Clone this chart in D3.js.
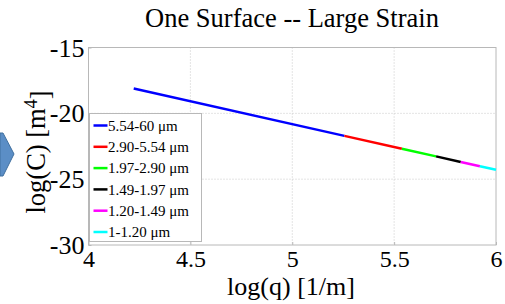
<!DOCTYPE html>
<html>
<head>
<meta charset="utf-8">
<script src="https://cdn.jsdelivr.net/npm/d3@7"></script>
</head>
<body style="margin:0">
<div id="chart"></div>
<script>
// Segment boundaries in log(q) and the matching log(C) values
var segLabels = ["5.54-60 \u03bcm", "2.90-5.54 \u03bcm", "1.97-2.90 \u03bcm", "1.49-1.97 \u03bcm", "1.20-1.49 \u03bcm", "1-1.20 \u03bcm"];
var segColors = ["#0000ff", "#ff0000", "#00ff00", "#000000", "#ff00ff", "#00ffff"];
var breakQ = [4.222, 5.256, 5.538, 5.706, 5.827, 5.921, 6.0];
var breakC = [-18.12, -21.71, -22.69, -23.27, -23.69, -24.02, -24.29];
var xTicks = [4, 4.5, 5, 5.5, 6];
var yTicks = [-30, -25, -20, -15];

var serif = "'Liberation Serif'";

function init() {
  var w = 505;
  var h = 304;
  var padLeft = 88.5, padRight = 496, padTop = 47.5, padBottom = 245;

  var svg = d3.select("#chart").append("svg")
    .attr("width", w)
    .attr("height", h);

  var x = d3.scaleLinear().domain([4, 6]).range([padLeft, padRight]);
  var y = d3.scaleLinear().domain([-30, -15]).range([padBottom, padTop]);

  // Slide arrow cut at the left edge
  svg.append("polygon")
    .attr("points", "0,133 3,133 14,154 3,176 0,176")
    .attr("fill", "#5b8ec6")
    .attr("stroke", "#41709f")
    .attr("stroke-width", 1);

  // Grid
  svg.append("g")
    .selectAll("line")
    .data(xTicks.slice(1, -1))
    .enter()
    .append("line")
    .attr("x1", (d) => x(d)).attr("x2", (d) => x(d))
    .attr("y1", padTop).attr("y2", padBottom)
    .attr("stroke", "#c8c8c8")
    .attr("stroke-dasharray", "1,2");

  svg.append("g")
    .selectAll("line")
    .data(yTicks.slice(1, -1))
    .enter()
    .append("line")
    .attr("x1", padLeft).attr("x2", padRight)
    .attr("y1", (d) => y(d)).attr("y2", (d) => y(d))
    .attr("stroke", "#c8c8c8")
    .attr("stroke-dasharray", "1,2");

  // Axes box
  svg.append("rect")
    .attr("x", padLeft).attr("y", padTop)
    .attr("width", padRight - padLeft).attr("height", padBottom - padTop)
    .attr("fill", "none")
    .attr("stroke", "#b8b8b8")
    .attr("stroke-width", 1);

  var xAxis = d3.axisBottom(x).tickValues(xTicks).tickSize(3).tickFormat(d3.format(""));
  var gx = svg.append("g")
    .attr("transform", "translate(0," + padBottom + ")")
    .call(xAxis);
  gx.select(".domain").remove();
  gx.selectAll("line").attr("stroke", "#b8b8b8").attr("transform", "translate(0,-3)");
  gx.selectAll("text")
    .attr("y", 22)
    .attr("dy", 0)
    .attr("fill", "#000")
    .style("font-family", serif)
    .style("font-size", "24px");

  var yAxis = d3.axisLeft(y).tickValues(yTicks).tickSize(3).tickFormat(d3.format(""));
  var gy = svg.append("g")
    .attr("transform", "translate(" + padLeft + ",0)")
    .call(yAxis);
  gy.select(".domain").remove();
  gy.selectAll("line").attr("stroke", "#b8b8b8").attr("transform", "translate(3,0)");
  gy.selectAll("text")
    .attr("x", -4)
    .attr("dy", "0.33em")
    .attr("fill", "#000")
    .style("font-family", serif)
    .style("font-size", "26px")
    .text((d) => String(d).replace("\u2212", "-"));

  // Curve segments
  svg.append("g")
    .selectAll("line")
    .data(segLabels)
    .enter()
    .append("line")
    .attr("x1", (d, i) => x(breakQ[i]))
    .attr("y1", (d, i) => y(breakC[i]))
    .attr("x2", (d, i) => x(breakQ[i + 1]))
    .attr("y2", (d, i) => y(breakC[i + 1]))
    .attr("stroke", (d, i) => segColors[i])
    .attr("stroke-width", 2.5);

  // Legend
  var legend = svg.append("g").attr("transform", "translate(89.5,113.5)");
  legend.append("rect")
    .attr("width", 112)
    .attr("height", 128)
    .attr("fill", "#fff")
    .attr("stroke", "#b8b8b8");

  legend.selectAll(".lg")
    .data(segLabels)
    .enter()
    .append("line")
    .attr("x1", 4).attr("x2", 18)
    .attr("y1", (d, i) => 12 + i * 21.3)
    .attr("y2", (d, i) => 12 + i * 21.3)
    .attr("stroke", (d, i) => segColors[i])
    .attr("stroke-width", 2.5);

  legend.selectAll("text")
    .data(segLabels)
    .enter()
    .append("text")
    .attr("x", 18.5)
    .attr("y", (d, i) => 12 + i * 21.3)
    .attr("dy", "0.35em")
    .style("font-family", serif)
    .style("font-size", "15px")
    .text((d) => d);

  // Title and labels
  svg.append("text")
    .attr("x", 292)
    .attr("y", 27)
    .attr("text-anchor", "middle")
    .style("font-family", serif)
    .style("font-size", "26.5px")
    .text("One Surface -- Large Strain");

  svg.append("text")
    .attr("x", 291)
    .attr("y", 295)
    .attr("text-anchor", "middle")
    .style("font-family", serif)
    .style("font-size", "26px")
    .text("log(q) [1/m]");

  var yl = svg.append("text")
    .attr("transform", "translate(45,152) rotate(-90)")
    .attr("text-anchor", "middle")
    .style("font-family", serif)
    .style("font-size", "26.5px");
  yl.append("tspan").text("log(C) [m");
  yl.append("tspan").attr("dy", "-0.45em").style("font-size", "18px").text("4");
  yl.append("tspan").attr("dy", "0.45em").text("]");
}

window.onload = init;
</script>
</body>
</html>
